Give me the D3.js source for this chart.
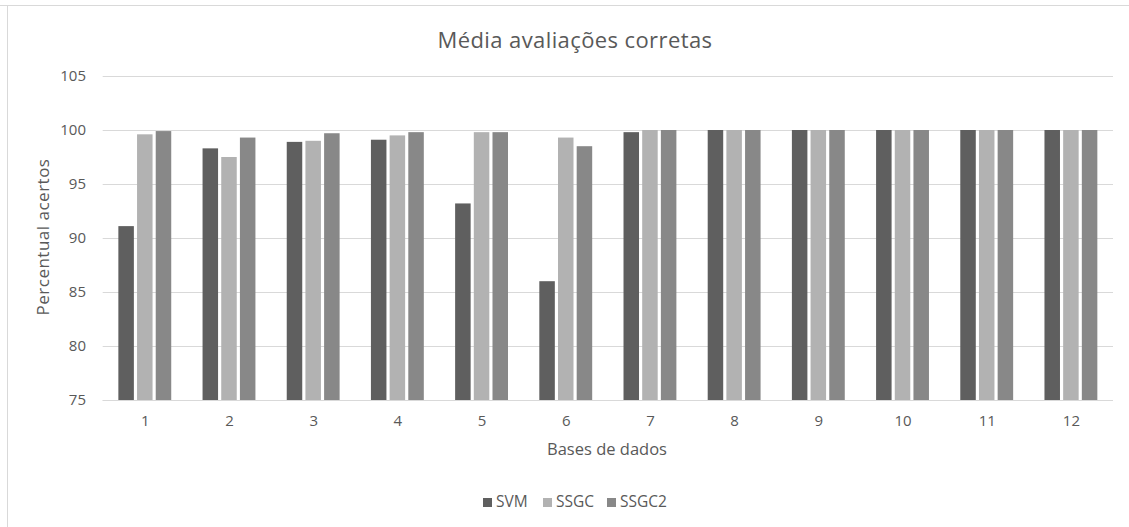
<!DOCTYPE html>
<html>
<head>
<meta charset="utf-8">
<script src="https://cdn.jsdelivr.net/npm/d3@7/dist/d3.min.js"></script>
<style>
  html, body { margin: 0; padding: 0; background: #fff; }
  svg { display: block; }
  text { font-family: "Open Sans", "Noto Sans", sans-serif; fill: #595959; }
</style>
</head>
<body>
<svg id="chart" width="1129" height="527"></svg>
<script>
// Bases de dados (categorias) e séries
const categories = ["1", "2", "3", "4", "5", "6", "7", "8", "9", "10", "11", "12"];
const seriesNames = ["SVM", "SSGC", "SSGC2"];
const svmValues   = [91.1, 98.3, 98.9, 99.1, 93.2, 86.0, 99.8, 100, 100, 100, 100, 100];
const ssgcValues  = [99.6, 97.5, 99.0, 99.5, 99.8, 99.3, 100, 100, 100, 100, 100, 100];
const ssgc2Values = [99.9, 99.3, 99.7, 99.8, 99.8, 98.5, 100, 100, 100, 100, 100, 100];
const yTicks = [75, 80, 85, 90, 95, 100, 105];
const seriesColors = ["#5f5f5f", "#b2b2b2", "#888888"];

const values = [svmValues, ssgcValues, ssgc2Values];
const svg = d3.select("#chart");

const plot = { left: 102.7, right: 1113, top: 76, bottom: 400 };

// Moldura do gráfico (bordas superior e esquerda visíveis)
svg.append("line").attr("x1", 0).attr("x2", 1129).attr("y1", 5.5).attr("y2", 5.5)
  .attr("stroke", "#d9d9d9").attr("stroke-width", 1);
svg.append("line").attr("x1", 7.5).attr("x2", 7.5).attr("y1", 5).attr("y2", 527)
  .attr("stroke", "#d9d9d9").attr("stroke-width", 1);

const x0 = d3.scaleBand()
  .domain(categories)
  .range([plot.left, plot.right])
  .paddingInner(0.372)
  .paddingOuter(0.186);

const x1 = d3.scaleBand()
  .domain(seriesNames)
  .range([0, x0.bandwidth()])
  .paddingInner(0.17)
  .paddingOuter(0);

const y = d3.scaleLinear().domain([75, 105]).range([plot.bottom, plot.top]);

// Linhas de grade horizontais
svg.append("g")
  .selectAll("line")
  .data(yTicks)
  .join("line")
  .attr("x1", plot.left).attr("x2", plot.right)
  .attr("y1", d => Math.round(y(d)) + 0.5).attr("y2", d => Math.round(y(d)) + 0.5)
  .attr("stroke", "#d9d9d9").attr("stroke-width", 1);

// Eixo Y
const yAxis = d3.axisLeft(y).tickValues(yTicks).tickSize(0).tickPadding(0);
const gy = svg.append("g").attr("transform", `translate(86,0)`).call(yAxis);
gy.select(".domain").remove();
gy.selectAll("text")
  .attr("font-size", "15px")
  .attr("fill", "#595959")
  .style("font-family", "'Open Sans', 'Noto Sans', sans-serif");

// Barras
const groups = svg.append("g")
  .selectAll("g")
  .data(categories)
  .join("g")
  .attr("transform", d => `translate(${x0(d)},0)`);

groups.selectAll("rect")
  .data((d, i) => seriesNames.map((s, k) => ({ s, k, v: values[k][i] })))
  .join("rect")
  .attr("x", d => x1(d.s))
  .attr("width", x1.bandwidth())
  .attr("y", d => y(d.v))
  .attr("height", d => y(75) - y(d.v))
  .attr("fill", d => seriesColors[d.k]);

// Eixo X (linha base e rótulos)
const xCenter = d3.scalePoint().domain(categories)
  .range([x0(categories[0]) + x0.bandwidth() / 2, x0(categories[11]) + x0.bandwidth() / 2]);
const xAxis = d3.axisBottom(xCenter).tickSize(0).tickPadding(0);
const gx = svg.append("g").attr("transform", `translate(0,${plot.bottom})`).call(xAxis);
gx.select(".domain").remove();
gx.selectAll("text")
  .attr("y", 26)
  .attr("dy", 0)
  .attr("font-size", "15px")
  .attr("fill", "#595959")
  .style("font-family", "'Open Sans', 'Noto Sans', sans-serif");

svg.append("line")
  .attr("x1", plot.left).attr("x2", plot.right)
  .attr("y1", plot.bottom + 0.5).attr("y2", plot.bottom + 0.5)
  .attr("stroke", "#d9d9d9").attr("stroke-width", 1);

// Título
svg.append("text")
  .attr("x", 575).attr("y", 48)
  .attr("text-anchor", "middle")
  .attr("font-size", "22px")
  .attr("letter-spacing", "0.4px")
  .text("Média avaliações corretas");

// Título do eixo Y
svg.append("text")
  .attr("transform", "translate(49,237) rotate(-90)")
  .attr("text-anchor", "middle")
  .attr("font-size", "17px")
  .attr("letter-spacing", "0.5px")
  .text("Percentual acertos");

// Título do eixo X
svg.append("text")
  .attr("x", 607).attr("y", 455)
  .attr("text-anchor", "middle")
  .attr("font-size", "16.5px")
  .text("Bases de dados");

// Legenda
const legendX = [483, 543, 607];
const legend = svg.append("g")
  .selectAll("g")
  .data(seriesNames)
  .join("g")
  .attr("transform", (d, i) => `translate(${legendX[i]},498)`);
legend.append("rect")
  .attr("width", 9).attr("height", 9)
  .attr("fill", (d, i) => seriesColors[i]);
legend.append("text")
  .attr("x", 13).attr("y", 9)
  .attr("font-size", "15.5px")
  .text(d => d);
</script>
</body>
</html>
